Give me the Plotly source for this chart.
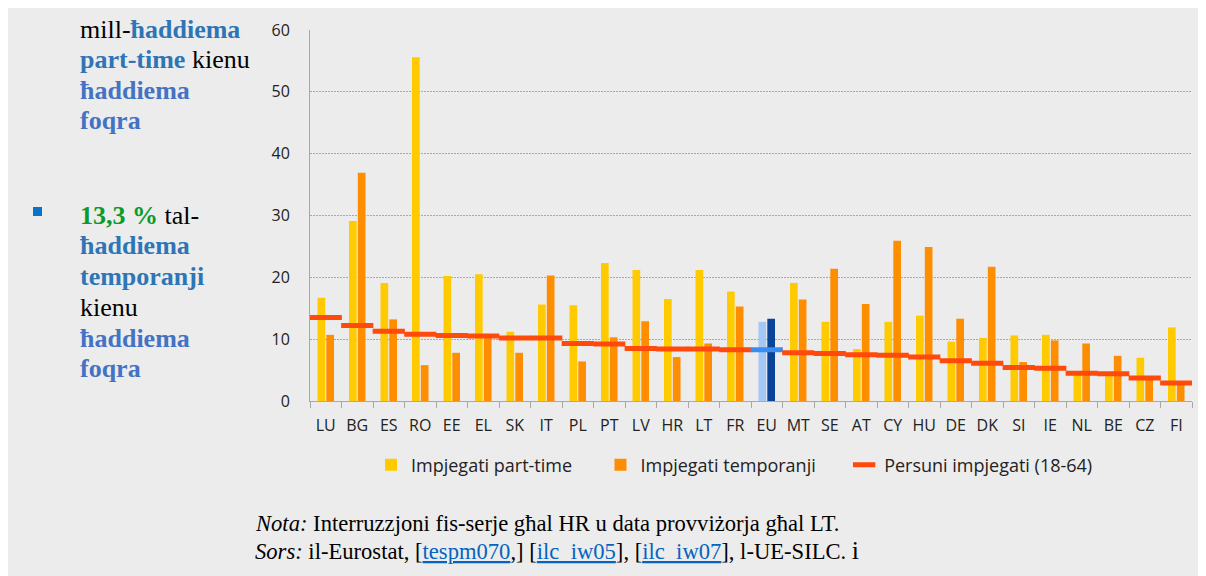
import plotly.graph_objects as go

countries = ["LU", "BG", "ES", "RO", "EE", "EL", "SK", "IT", "PL", "PT", "LV", "HR", "LT", "FR",
             "EU", "MT", "SE", "AT", "CY", "HU", "DE", "DK", "SI", "IE", "NL", "BE", "CZ", "FI"]
part_time = [16.7, 29.1, 19.1, 55.6, 20.2, 20.5, 11.2, 15.6, 15.5, 22.3, 21.2, 16.5, 21.2, 17.7,
             12.8, 19.1, 12.8, 8.4, 12.8, 13.8, 9.6, 10.2, 10.6, 10.7, 4.3, 4.1, 7.0, 11.9]
temporary = [10.7, 36.9, 13.2, 5.8, 7.8, 10.4, 7.8, 20.3, 6.4, 10.3, 12.9, 7.1, 9.3, 15.3,
             13.3, 16.4, 21.4, 15.7, 25.9, 24.9, 13.3, 21.7, 6.3, 9.8, 9.3, 7.3, 3.5, 2.8]
employed = [13.5, 12.2, 11.3, 10.8, 10.6, 10.5, 10.2, 10.2, 9.3, 9.2, 8.5, 8.4, 8.4, 8.3,
            8.3, 7.8, 7.7, 7.5, 7.4, 7.1, 6.5, 6.1, 5.4, 5.3, 4.5, 4.4, 3.7, 2.9]
series_names = ["Impjegati part-time", "Impjegati temporanji", "Persuni impjegati (18-64)"]
y_ticks = [0, 10, 20, 30, 40, 50, 60]

W, H = 1198, 568
OFF = 8  # page offset of the figure (body margin)
L, R, T, B = 310 - OFF, 1192 - OFF, 30 - OFF, 401 - OFF


def px_x(x):
    return (x - OFF - L) / (R - L)


def px_y(y):
    return (B - (y - OFF)) / (B - T)


YEL, ORA, RED = "#FFCA00", "#FF8D00", "#FF4A0C"
EU_LIGHT, EU_DARK, EU_LINE = "#A3C8F7", "#0B4396", "#3A8CF0"

col_pt = [EU_LIGHT if c == "EU" else YEL for c in countries]
col_tmp = [EU_DARK if c == "EU" else ORA for c in countries]
col_line = [EU_LINE if c == "EU" else RED for c in countries]

PAD = "\u00a0" * 5  # legend spacing only

fig = go.Figure()
fig.add_trace(go.Bar(x=countries, y=part_time, name=series_names[0] + PAD,
                     marker=dict(color=col_pt, line=dict(width=0))))
fig.add_trace(go.Bar(x=countries, y=temporary, name=series_names[1] + PAD,
                     marker=dict(color=col_tmp, line=dict(width=0))))
fig.add_trace(go.Scatter(x=countries, y=employed, name=series_names[2], mode="markers",
                         marker=dict(symbol="line-ew", size=23, color=col_line,
                                     line=dict(color=col_line, width=5))))

shapes = [
    dict(type="rect", xref="paper", yref="paper", x0=px_x(33), x1=px_x(42), y0=px_y(216), y1=px_y(207),
         fillcolor="#0A72C8", line=dict(width=0)),
]

serif = "Liberation Serif"
BLUE1 = "#2E75B6"
BLUE2 = "#4472C4"
GREEN = "#0A9B2A"
left_lines = [
    (29, "mill-<b><span style='color:%s'>ħaddiema</span></b>" % BLUE1),
    (59, "<b><span style='color:%s'>part-time</span></b> kienu" % BLUE1),
    (90, "<b><span style='color:%s'>ħaddiema</span></b>" % BLUE2),
    (120, "<b><span style='color:%s'>foqra</span></b>" % BLUE2),
    (215, "<b><span style='color:%s'>13,3 %%</span></b> tal-" % GREEN),
    (246, "<b><span style='color:%s'>ħaddiema</span></b>" % BLUE1),
    (276, "<b><span style='color:%s'>temporanji</span></b>" % BLUE1),
    (307, "kienu"),
    (338, "<b><span style='color:%s'>ħaddiema</span></b>" % BLUE2),
    (368, "<b><span style='color:%s'>foqra</span></b>" % BLUE2),
]
annotations = []
for yy, txt in left_lines:
    annotations.append(dict(text=txt, xref="paper", yref="paper", x=px_x(78), y=px_y(yy),
                            xanchor="left", yanchor="middle", showarrow=False,
                            font=dict(family=serif, size=26, color="black")))

LINK = "#0563C1"
notes = [
    (523, "<i>Nota:</i> Interruzzjoni fis-serje għal HR u data provviżorja għal LT."),
    (550, "<i>Sors:</i> il-Eurostat, [<span style='color:%s'><u>tespm070</u></span>,] "
          "[<span style='color:%s'><u>ilc_iw05</u></span>], [<span style='color:%s'><u>ilc_iw07</u></span>], "
          "l-UE-SILC. <span style='font-size:26px'>i</span>" % (LINK, LINK, LINK)),
]
for yy, txt in notes:
    annotations.append(dict(text=txt, xref="paper", yref="paper", x=px_x(253), y=px_y(yy),
                            xanchor="left", yanchor="middle", showarrow=False,
                            font=dict(family=serif, size=22.6, color="black")))

SANS = "Open Sans, Noto Sans, sans-serif"
fig.update_layout(
    width=W, height=H,
    margin=dict(l=L, r=W - R, t=T, b=H - B, pad=0, autoexpand=False),
    paper_bgcolor="#ECECEC", plot_bgcolor="#ECECEC",
    barmode="group", bargap=0.44, bargroupgap=0.13,
    font=dict(family=SANS, size=16, color="#222222"),
    showlegend=True,
    legend=dict(orientation="h", x=px_x(371), xanchor="left", y=px_y(465), yanchor="middle",
                bgcolor="rgba(0,0,0,0)", font=dict(family=SANS, size=18, color="#222222"),
                itemsizing="trace", traceorder="normal"),
    shapes=shapes, annotations=annotations,
    xaxis=dict(type="category", categoryorder="array", categoryarray=countries,
               range=[-0.5, len(countries) - 0.5],
               showline=True, linecolor="#A8A8A8", linewidth=1, tickangle=0,
               ticks="outside", ticklen=6, tickcolor="#A8A8A8", tickson="boundaries",
               ticklabelstandoff=10,
               showgrid=False, tickfont=dict(family=SANS, size=16, color="#222222"), fixedrange=True),
    yaxis=dict(range=[0, 60], tickvals=y_ticks, ticktext=[str(v) for v in y_ticks],
               showline=True, linecolor="#A8A8A8", linewidth=1,
               showgrid=True, gridcolor="#A9A9A9", gridwidth=1, griddash="2px,1px",
               zeroline=False, ticks="", ticklabelstandoff=16,
               tickfont=dict(family=SANS, size=16, color="#222222"), fixedrange=True),
)

fig.write_html("out.html")
